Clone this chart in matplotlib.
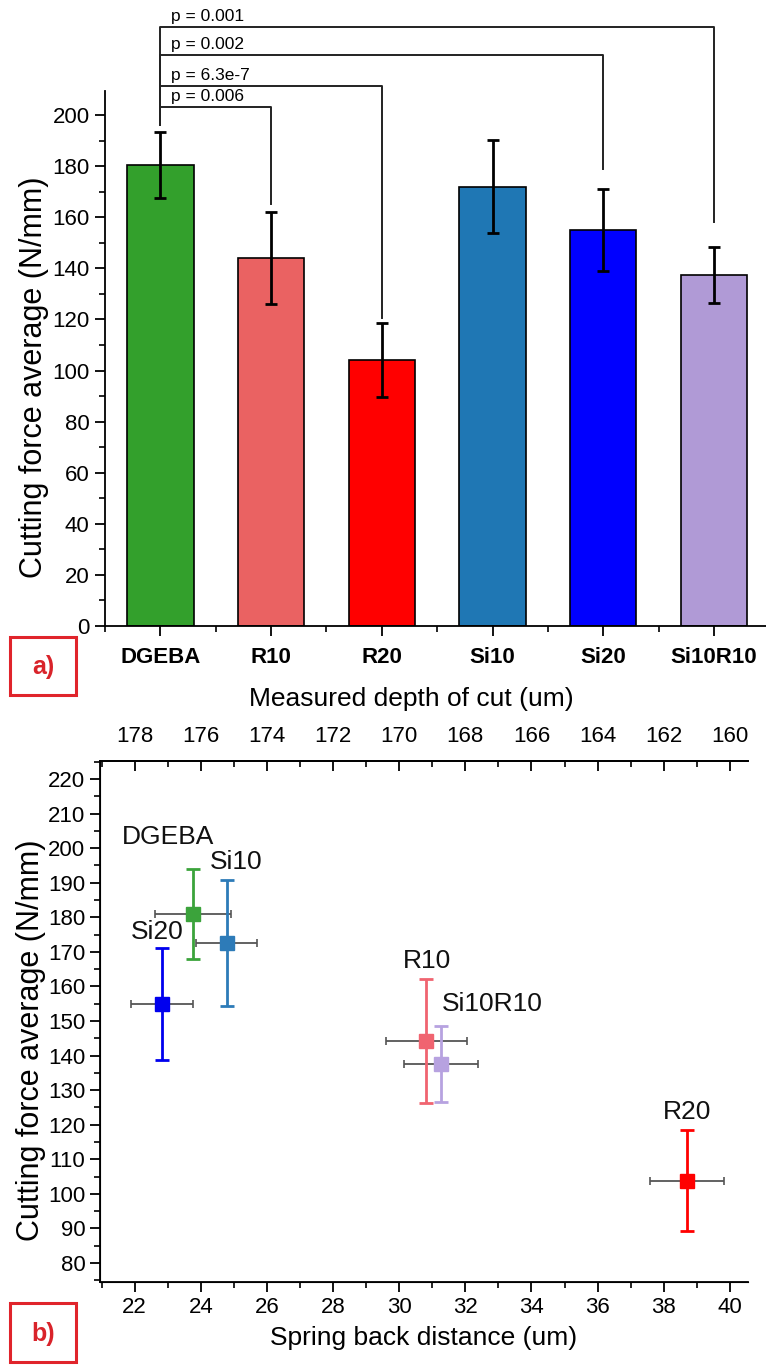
import matplotlib
matplotlib.use("Agg")
import matplotlib.pyplot as plt
from matplotlib.ticker import MultipleLocator, FixedLocator
from matplotlib.patches import Rectangle

plt.rcParams['font.family'] = ['Liberation Sans', 'DejaVu Sans']

# ---------------- data ----------------
categories = ["DGEBA", "R10", "R20", "Si10", "Si20", "Si10R10"]
force_mean = [180.5, 144.0, 104.0, 172.0, 155.0, 137.5]
force_err = [13.0, 18.0, 14.5, 18.2, 16.0, 11.0]
bar_colors = ["#33a02c", "#ea6262", "#ff0000", "#1f77b4", "#0000ff", "#b09ad6"]

# significance brackets: (target index, bracket height, right leg end, label)
sig_targets = [1, 2, 4, 5]
sig_heights = [203.0, 211.5, 223.3, 234.3]
sig_leg_end = [165.0, 120.5, 179.0, 158.0]
sig_labels = ["p = 0.006", "p = 6.3e-7", "p = 0.002", "p = 0.001"]

# scatter panel
pt_names = ["DGEBA", "Si10", "Si20", "R10", "Si10R10", "R20"]
spring_back = [23.76, 24.78, 22.83, 30.82, 31.26, 38.70]
spring_err = [1.15, 0.93, 0.93, 1.23, 1.13, 1.12]
pt_force = [181.0, 172.5, 154.8, 144.3, 137.5, 103.8]
pt_force_err = [13.0, 18.2, 16.2, 17.9, 11.0, 14.6]
pt_colors = ["#3ba33b", "#2d7bb8", "#0000ee", "#f06470", "#b7a2e0", "#ff0000"]
label_x = [21.6, 24.27, 21.88, 30.12, 31.30, 37.97]
label_y = [199.7, 192.4, 172.4, 163.8, 151.3, 120.3]
depth_ticks = [178, 176, 174, 172, 170, 168, 166, 164, 162, 160]

W, H = 766, 1367
fig = plt.figure(figsize=(W / 100, H / 100), dpi=100)

# ---------------- panel a ----------------
ax1 = fig.add_axes([105 / W, 1 - 626 / H, 1 - 105 / W, (626 - 91) / H])
x = list(range(len(categories)))
ax1.bar(x, force_mean, width=0.6, color=bar_colors, edgecolor="black", linewidth=1.2, zorder=2)
ax1.errorbar(x, force_mean, yerr=force_err, fmt="none", ecolor="black", elinewidth=2,
             capsize=4, capthick=2, zorder=3)
ax1.set_xlim(-0.5, 5.47)
ax1.set_ylim(0, 209.4)
ax1.spines["top"].set_visible(False)
ax1.spines["right"].set_visible(False)
for s in ["left", "bottom"]:
    ax1.spines[s].set_linewidth(1.3)
ax1.set_xticks(x)
ax1.set_xticklabels(categories, fontweight="bold", fontsize=16)
ax1.xaxis.set_minor_locator(FixedLocator([i + 0.5 for i in range(-1, 6)]))
ax1.yaxis.set_major_locator(MultipleLocator(20))
ax1.yaxis.set_minor_locator(MultipleLocator(10))
ax1.tick_params(axis="both", which="major", direction="out", length=7, width=1.3, labelsize=16, pad=4)
ax1.tick_params(axis="both", which="minor", direction="out", length=4, width=1.2)
ax1.tick_params(axis="x", which="major", pad=8)
ax1.set_ylabel("Cutting force average (N/mm)", fontsize=22)
ax1.yaxis.set_label_coords(-0.084, 0.465)

for tgt, h, leg, lab in zip(sig_targets, sig_heights, sig_leg_end, sig_labels):
    ax1.plot([0, 0, tgt, tgt], [196, h, h, leg], color="#222222", lw=1.4, clip_on=False, zorder=4)
    ax1.text(0.1, h + 1.2, lab, fontsize=12.5, ha="left", va="bottom", clip_on=False)

# ---------------- panel b ----------------
ax2 = fig.add_axes([100 / W, 1 - 1282 / H, (748 - 100) / W, (1282 - 761) / H])
for sx, sxe, fy, fye, c in zip(spring_back, spring_err, pt_force, pt_force_err, pt_colors):
    ax2.errorbar(sx, fy, xerr=sxe, fmt="none", ecolor="#555555", elinewidth=1.3, capsize=3,
                 capthick=1.2, zorder=2)
    ax2.errorbar(sx, fy, yerr=fye, fmt="s", color=c, ecolor=c, elinewidth=2, capsize=5,
                 capthick=2, markersize=10, zorder=3)
for name, lx, ly in zip(pt_names, label_x, label_y):
    ax2.text(lx, ly, name, fontsize=19, ha="left", va="bottom", color="#111111")

ax2.set_xlim(20.95, 40.55)
ax2.set_ylim(74.5, 225.2)
ax2.spines["right"].set_visible(False)
for s in ["left", "bottom", "top"]:
    ax2.spines[s].set_linewidth(1.3)
ax2.xaxis.set_major_locator(MultipleLocator(2))
ax2.xaxis.set_minor_locator(MultipleLocator(1))
ax2.yaxis.set_minor_locator(MultipleLocator(5))
ax2.set_yticks(range(80, 221, 10))
ax2.tick_params(axis="both", which="major", direction="out", length=7, width=1.3, labelsize=16)
ax2.tick_params(axis="both", which="minor", direction="out", length=4, width=1.2)
ax2.set_xlabel("Spring back distance (um)", fontsize=19, labelpad=6)
ax2.set_ylabel("Cutting force average (N/mm)", fontsize=22)
ax2.yaxis.set_label_coords(-0.083, 0.464)

# top axis: measured depth of cut
ax3 = ax2.twiny()
lo, hi = ax2.get_xlim()
ax3.set_xlim(200 - lo, 200 - hi)
ax3.set_xticks(depth_ticks)
ax3.xaxis.set_minor_locator(MultipleLocator(1))
ax3.tick_params(axis="x", which="major", direction="in", length=7, width=1.3, labelsize=16, pad=10)
ax3.tick_params(axis="x", which="minor", direction="in", length=4, width=1.2)
ax3.spines["right"].set_visible(False)
ax3.spines["top"].set_linewidth(1.3)
ax3.set_xlabel("Measured depth of cut (um)", fontsize=19)
ax3.xaxis.set_label_coords(0.48, 1.0 + 55 / 521)

# ---------------- panel labels ----------------
for (bx, by, bh), lab in zip([(10, 637, 58), (10, 1303, 59)], ["a)", "b)"]):
    fig.patches.append(Rectangle((bx / W, 1 - (by + bh) / H), 66 / W, bh / H,
                                 transform=fig.transFigure, fill=False,
                                 edgecolor="#e0242b", linewidth=2.2))
    fig.text((bx + 33) / W, 1 - (by + bh / 2 + 1) / H, lab, color="#d9232a", fontsize=18,
             fontweight="bold", ha="center", va="center")

fig.savefig("out.png", dpi=100)
